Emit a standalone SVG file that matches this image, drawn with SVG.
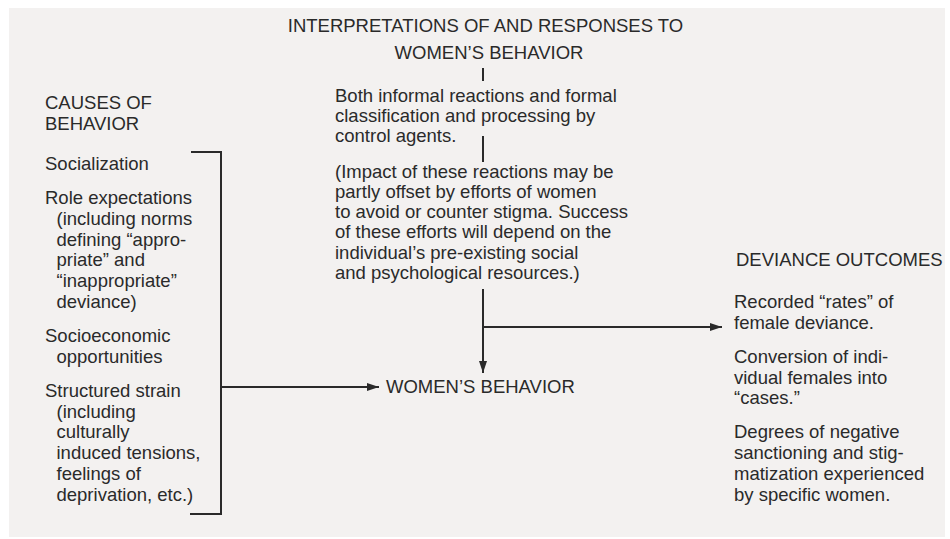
<svg xmlns="http://www.w3.org/2000/svg" width="950" height="539" viewBox="0 0 950 539">
<defs>
<style>
text{font-family:"Liberation Sans",Arial,sans-serif;font-size:18.5px;fill:#2a2a2a}
.ln{stroke:#2a2a2a;stroke-width:2;fill:none}
</style>
<marker id="ah" viewBox="0 0 12 8" refX="12" refY="4" markerWidth="12" markerHeight="8" markerUnits="userSpaceOnUse" orient="auto">
<path d="M0,0 L12,4 L0,8 Z" fill="#2a2a2a"/>
</marker>
</defs>
<rect x="0" y="0" width="950" height="539" fill="#ffffff"/>
<rect x="9" y="8" width="936" height="529" fill="#f3f1f0"/>

<g id="interpretations">
<text x="485.5" y="32" text-anchor="middle">INTERPRETATIONS OF AND RESPONSES TO</text>
<text x="489" y="58.5" text-anchor="middle">WOMEN’S BEHAVIOR</text>
</g>

<g id="reactions">
<text x="335" y="101.5">Both informal reactions and formal</text>
<text x="335" y="121.8">classification and processing by</text>
<text x="335" y="142.1">control agents.</text>
<text x="335" y="177.5">(Impact of these reactions may be</text>
<text x="335" y="197.8">partly offset by efforts of women</text>
<text x="335" y="218.1">to avoid or counter stigma. Success</text>
<text x="335" y="238.4">of these efforts will depend on the</text>
<text x="335" y="258.7">individual’s pre-existing social</text>
<text x="335" y="279">and psychological resources.)</text>
</g>

<g id="causes">
<text x="45" y="109">CAUSES OF</text>
<text x="45" y="130">BEHAVIOR</text>
<text x="45" y="170">Socialization</text>
<text x="45" y="204">Role expectations</text>
<text x="56.5" y="224.8">(including norms</text>
<text x="56.5" y="245.6">defining “appro-</text>
<text x="56.5" y="266.4">priate” and</text>
<text x="56.5" y="287.2">“inappropriate”</text>
<text x="56.5" y="308">deviance)</text>
<text x="45" y="342">Socioeconomic</text>
<text x="56.5" y="362.8">opportunities</text>
<text x="45" y="396.8">Structured strain</text>
<text x="56.5" y="417.6">(including</text>
<text x="56.5" y="438.4">culturally</text>
<text x="56.5" y="459.2">induced tensions,</text>
<text x="56.5" y="480">feelings of</text>
<text x="56.5" y="500.8">deprivation, etc.)</text>
</g>

<g id="womens-behavior">
<text x="386" y="393">WOMEN’S BEHAVIOR</text>
</g>

<g id="outcomes">
<text x="736" y="266">DEVIANCE OUTCOMES</text>
<text x="734" y="308">Recorded “rates” of</text>
<text x="734" y="328.8">female deviance.</text>
<text x="734" y="362.8">Conversion of indi-</text>
<text x="734" y="383.6">vidual females into</text>
<text x="734" y="404.4">“cases.”</text>
<text x="734" y="438.4">Degrees of negative</text>
<text x="734" y="459.2">sanctioning and stig-</text>
<text x="734" y="480">matization experienced</text>
<text x="734" y="500.8">by specific women.</text>
</g>

<g id="connectors">
<line class="ln" x1="483" y1="68" x2="483" y2="81"/>
<line class="ln" x1="483" y1="136" x2="483" y2="162"/>
<polyline class="ln" points="191,152 221,152 221,514 190,514"/>
<line class="ln" x1="221" y1="387" x2="379" y2="387" marker-end="url(#ah)"/>
<line class="ln" x1="483" y1="289" x2="483" y2="373" marker-end="url(#ah)"/>
<line class="ln" x1="483" y1="327" x2="722" y2="327" marker-end="url(#ah)"/>
</g>
</svg>
